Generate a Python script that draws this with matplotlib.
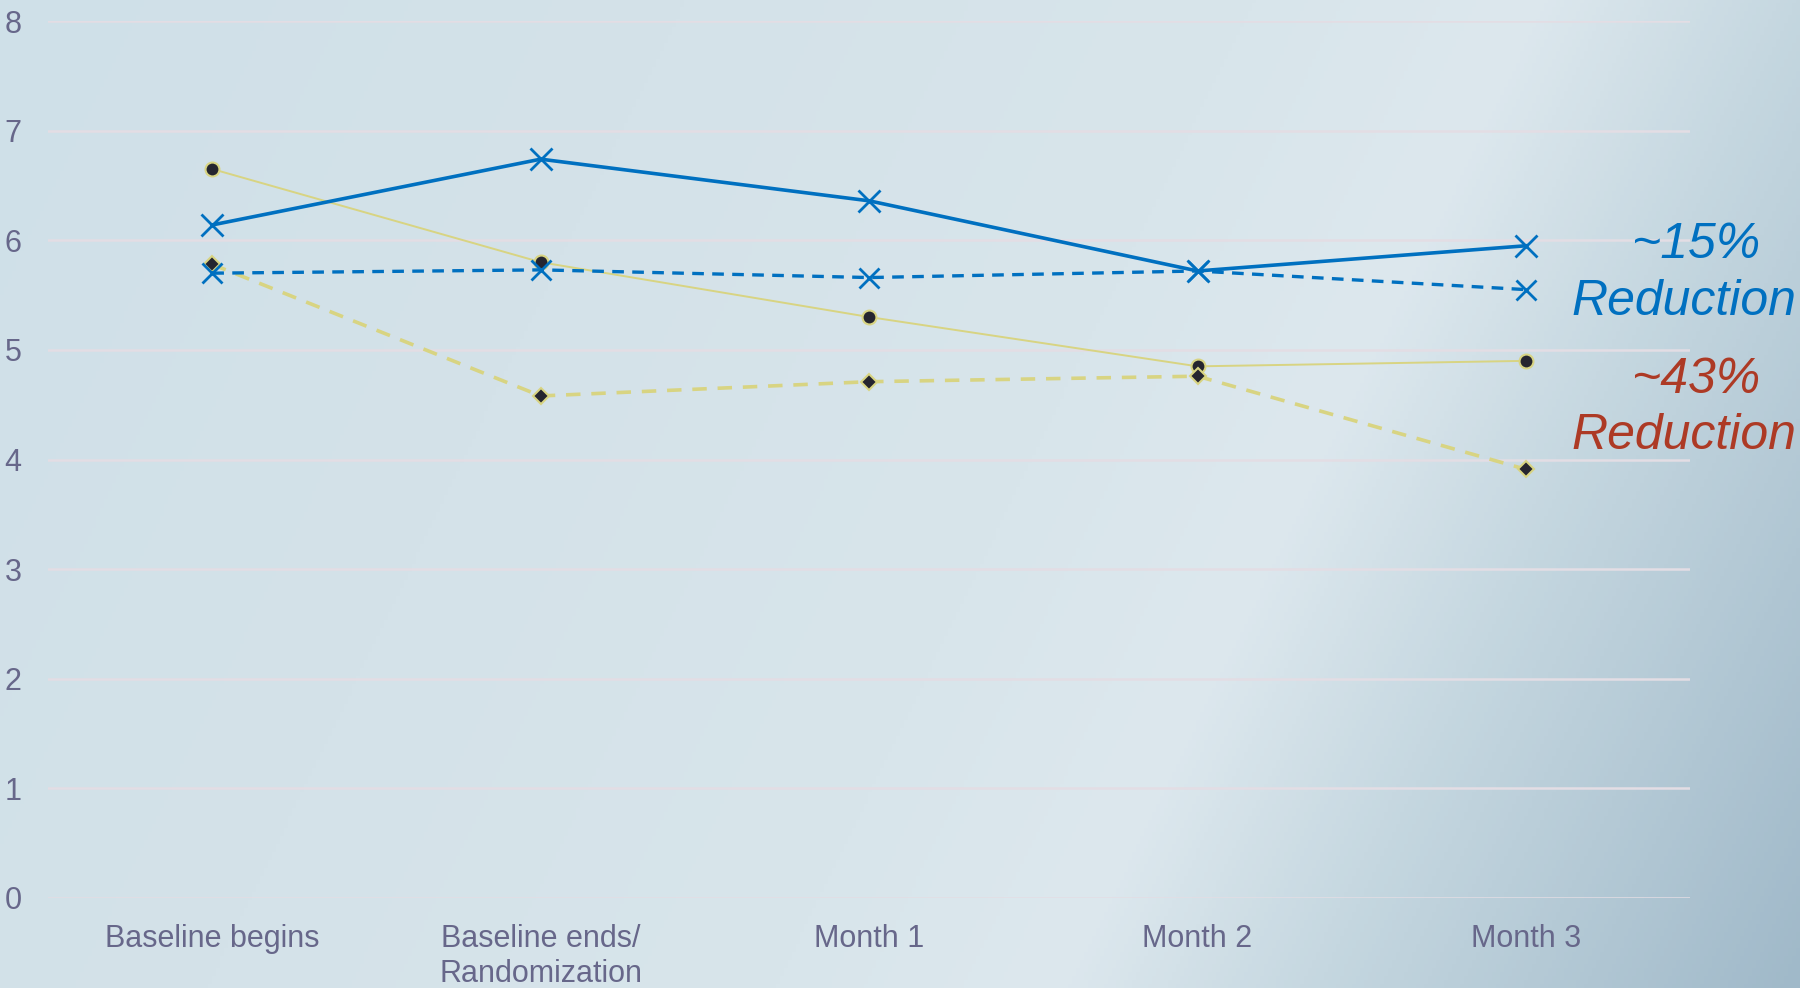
import numpy as np
import matplotlib
matplotlib.use("Agg")
import matplotlib.pyplot as plt
from matplotlib.colors import LinearSegmentedColormap

categories = ["Baseline begins", "Baseline ends/\nRandomization", "Month 1", "Month 2", "Month 3"]
blue_solid = [6.14, 6.74, 6.36, 5.72, 5.95]
blue_dashed = [5.70, 5.73, 5.66, 5.72, 5.55]
yellow_solid = [6.65, 5.80, 5.30, 4.85, 4.90]
yellow_dashed = [5.78, 4.58, 4.71, 4.76, 3.91]
yticks = [0, 1, 2, 3, 4, 5, 6, 7, 8]

blue = "#0070c0"
yellow = "#d8d482"
red = "#ad3a25"
tick_col = "#67678a"

fig = plt.figure(figsize=(18, 9.88), dpi=100)

# diagonal background wash
bg = fig.add_axes([0, 0, 1, 1], zorder=0)
bg.set_axis_off()
h, w = 247, 450
yy, xx = np.mgrid[0:h, 0:w]
t = (xx / (w - 1)) * 0.79 + (yy / (h - 1)) * 0.21
cmap = LinearSegmentedColormap.from_list(
    "wash", [(0.0, "#cfe0e8"), (0.3, "#d4e2e9"), (0.55, "#d8e5eb"),
             (0.675, "#dde8ee"), (0.79, "#c5d7e0"), (1.0, "#a0b9c9")])
bg.imshow(t, cmap=cmap, vmin=0, vmax=1, aspect="auto",
          extent=[0, 1, 0, 1], origin="upper")
bg.set_xlim(0, 1)
bg.set_ylim(0, 1)

ax = fig.add_axes([0.0267, 0.0911, 0.9123, 0.8876], zorder=1)
ax.patch.set_alpha(0)
x = np.arange(len(categories))

ax.plot(x, yellow_solid, color=yellow, lw=1.4, zorder=3,
        marker="o", ms=10, mfc="#25252f", mec=yellow, mew=1.5)
ax.plot(x, yellow_dashed, color=yellow, lw=2.6, ls=(0, (4, 3)), zorder=3,
        marker="D", ms=8, mfc="#25252f", mec=yellow, mew=1.5)
ax.plot(x, blue_dashed, color=blue, lw=2.4, ls=(0, (3.5, 2.5)), zorder=4,
        marker="x", ms=15, mew=2)
ax.plot(x, blue_solid, color=blue, lw=2.6, zorder=4,
        marker="x", ms=16, mew=2)

ax.set_xlim(-0.5, 4.5)
ax.set_ylim(0, 8)
ax.set_yticks(yticks)
ax.set_xticks(x)
ax.set_xticklabels(categories, fontsize=22, color=tick_col,
                   family=["Liberation Sans Narrow", "Liberation Sans"],
                   linespacing=1.2)
ax.set_yticklabels([str(v) for v in yticks], fontsize=22, color=tick_col,
                   family=["Liberation Sans", "DejaVu Sans"])
ax.tick_params(axis="y", length=0, pad=19)
ax.tick_params(axis="x", length=0, pad=19)
for s in ax.spines.values():
    s.set_visible(False)
ax.yaxis.grid(True, color="#e3dde4", lw=1.8, zorder=0)
ax.set_axisbelow(True)

# callouts at the right edge
ann = dict(fontsize=36, style="italic", va="center",
           family=["Liberation Sans", "DejaVu Sans"])
fig.text(0.942, 1 - 245 / 988, "~15%", color=blue, ha="center", **ann)
fig.text(0.998, 1 - 302 / 988, "Reduction", color=blue, ha="right", **ann)
fig.text(0.942, 1 - 380 / 988, "~43%", color=red, ha="center", **ann)
fig.text(0.998, 1 - 436 / 988, "Reduction", color=red, ha="right", **ann)

fig.savefig("out.png", dpi=100)
